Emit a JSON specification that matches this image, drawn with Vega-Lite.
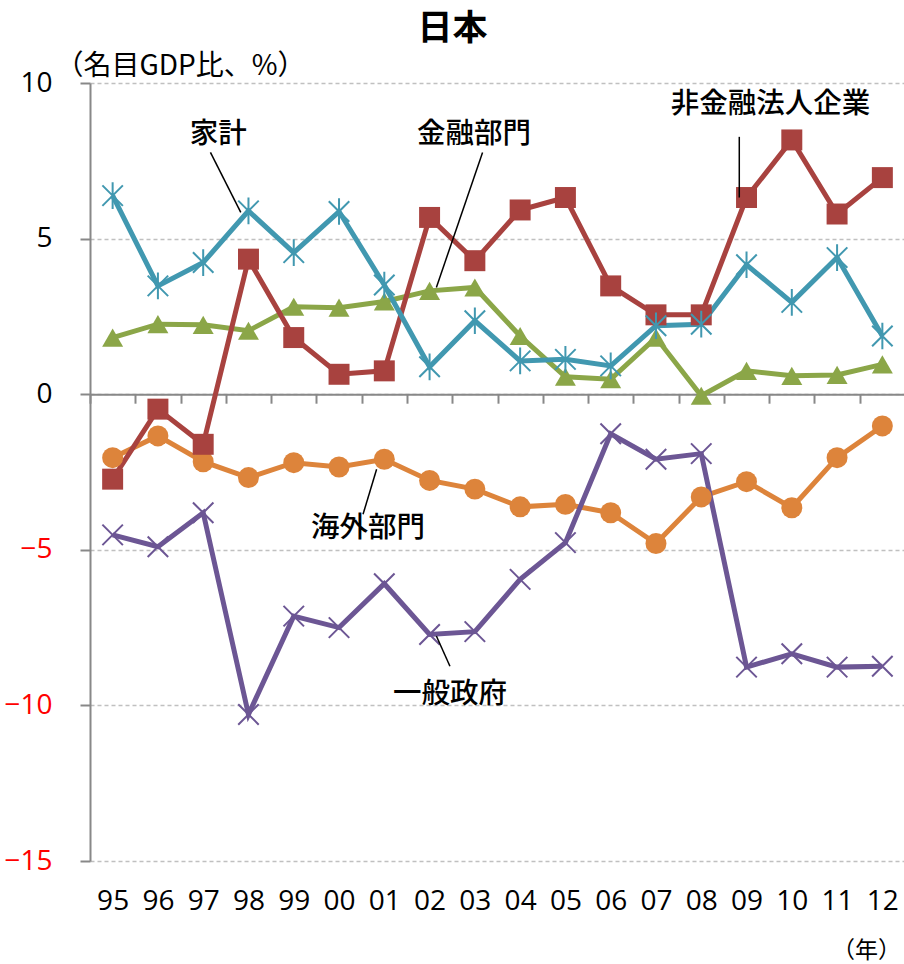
{
  "$schema": "https://vega.github.io/schema/vega-lite/v6.json",
  "width": 815,
  "height": 778,
  "autosize": "none",
  "padding": {"left": 90, "top": 83, "right": 0, "bottom": 103},
  "background": "white",
  "config": {"view": {"stroke": null}, "font": "Noto Sans CJK JP"},
  "title": {"text": "日本", "fontSize": 35, "fontWeight": "bold", "font": "Noto Sans CJK JP", "color": "black", "anchor": "middle", "frame": "group", "dx": -45, "baseline": "middle", "offset": -12},
  "datasets": {
    "sectors": [
      {"year": 1995, "series": "金融部門", "value": 1.82},
      {"year": 1996, "series": "金融部門", "value": 2.25},
      {"year": 1997, "series": "金融部門", "value": 2.23},
      {"year": 1998, "series": "金融部門", "value": 2.04},
      {"year": 1999, "series": "金融部門", "value": 2.81},
      {"year": 2000, "series": "金融部門", "value": 2.78},
      {"year": 2001, "series": "金融部門", "value": 2.98},
      {"year": 2002, "series": "金融部門", "value": 3.32},
      {"year": 2003, "series": "金融部門", "value": 3.43},
      {"year": 2004, "series": "金融部門", "value": 1.87},
      {"year": 2005, "series": "金融部門", "value": 0.56},
      {"year": 2006, "series": "金融部門", "value": 0.48},
      {"year": 2007, "series": "金融部門", "value": 1.82},
      {"year": 2008, "series": "金融部門", "value": -0.05},
      {"year": 2009, "series": "金融部門", "value": 0.75},
      {"year": 2010, "series": "金融部門", "value": 0.59},
      {"year": 2011, "series": "金融部門", "value": 0.62},
      {"year": 2012, "series": "金融部門", "value": 0.96},
      {"year": 1995, "series": "海外部門", "value": -2.04},
      {"year": 1996, "series": "海外部門", "value": -1.34},
      {"year": 1997, "series": "海外部門", "value": -2.17},
      {"year": 1998, "series": "海外部門", "value": -2.68},
      {"year": 1999, "series": "海外部門", "value": -2.2},
      {"year": 2000, "series": "海外部門", "value": -2.34},
      {"year": 2001, "series": "海外部門", "value": -2.09},
      {"year": 2002, "series": "海外部門", "value": -2.77},
      {"year": 2003, "series": "海外部門", "value": -3.05},
      {"year": 2004, "series": "海外部門", "value": -3.62},
      {"year": 2005, "series": "海外部門", "value": -3.54},
      {"year": 2006, "series": "海外部門", "value": -3.81},
      {"year": 2007, "series": "海外部門", "value": -4.8},
      {"year": 2008, "series": "海外部門", "value": -3.3},
      {"year": 2009, "series": "海外部門", "value": -2.81},
      {"year": 2010, "series": "海外部門", "value": -3.65},
      {"year": 2011, "series": "海外部門", "value": -2.04},
      {"year": 2012, "series": "海外部門", "value": -1.02},
      {"year": 1995, "series": "非金融法人企業", "value": -2.73},
      {"year": 1996, "series": "非金融法人企業", "value": -0.48},
      {"year": 1997, "series": "非金融法人企業", "value": -1.61},
      {"year": 1998, "series": "非金融法人企業", "value": 4.34},
      {"year": 1999, "series": "非金融法人企業", "value": 1.82},
      {"year": 2000, "series": "非金融法人企業", "value": 0.64},
      {"year": 2001, "series": "非金融法人企業", "value": 0.75},
      {"year": 2002, "series": "非金融法人企業", "value": 5.68},
      {"year": 2003, "series": "非金融法人企業", "value": 4.29},
      {"year": 2004, "series": "非金融法人企業", "value": 5.92},
      {"year": 2005, "series": "非金融法人企業", "value": 6.32},
      {"year": 2006, "series": "非金融法人企業", "value": 3.48},
      {"year": 2007, "series": "非金融法人企業", "value": 2.55},
      {"year": 2008, "series": "非金融法人企業", "value": 2.55},
      {"year": 2009, "series": "非金融法人企業", "value": 6.32},
      {"year": 2010, "series": "非金融法人企業", "value": 8.17},
      {"year": 2011, "series": "非金融法人企業", "value": 5.79},
      {"year": 2012, "series": "非金融法人企業", "value": 6.96},
      {"year": 1995, "series": "一般政府", "value": -4.52},
      {"year": 1996, "series": "一般政府", "value": -4.9},
      {"year": 1997, "series": "一般政府", "value": -3.81},
      {"year": 1998, "series": "一般政府", "value": -10.29},
      {"year": 1999, "series": "一般政府", "value": -7.13},
      {"year": 2000, "series": "一般政府", "value": -7.5},
      {"year": 2001, "series": "一般政府", "value": -6.09},
      {"year": 2002, "series": "一般政府", "value": -7.72},
      {"year": 2003, "series": "一般政府", "value": -7.63},
      {"year": 2004, "series": "一般政府", "value": -5.95},
      {"year": 2005, "series": "一般政府", "value": -4.77},
      {"year": 2006, "series": "一般政府", "value": -1.27},
      {"year": 2007, "series": "一般政府", "value": -2.09},
      {"year": 2008, "series": "一般政府", "value": -1.91},
      {"year": 2009, "series": "一般政府", "value": -8.77},
      {"year": 2010, "series": "一般政府", "value": -8.34},
      {"year": 2011, "series": "一般政府", "value": -8.77},
      {"year": 2012, "series": "一般政府", "value": -8.74},
      {"year": 1995, "series": "家計", "value": 6.38},
      {"year": 1996, "series": "家計", "value": 3.48},
      {"year": 1997, "series": "家計", "value": 4.23},
      {"year": 1998, "series": "家計", "value": 5.89},
      {"year": 1999, "series": "家計", "value": 4.55},
      {"year": 2000, "series": "家計", "value": 5.87},
      {"year": 2001, "series": "家計", "value": 3.51},
      {"year": 2002, "series": "家計", "value": 0.88},
      {"year": 2003, "series": "家計", "value": 2.36},
      {"year": 2004, "series": "家計", "value": 1.07},
      {"year": 2005, "series": "家計", "value": 1.12},
      {"year": 2006, "series": "家計", "value": 0.91},
      {"year": 2007, "series": "家計", "value": 2.2},
      {"year": 2008, "series": "家計", "value": 2.25},
      {"year": 2009, "series": "家計", "value": 4.16},
      {"year": 2010, "series": "家計", "value": 2.95},
      {"year": 2011, "series": "家計", "value": 4.39},
      {"year": 2012, "series": "家計", "value": 1.87}
    ],
    "notes": [
      {"label": "家計", "x": 1997.33, "y": 8.37},
      {"label": "金融部門", "x": 2002.98, "y": 8.37},
      {"label": "非金融法人企業", "x": 2009.53, "y": 9.33},
      {"label": "海外部門", "x": 2000.64, "y": -4.29},
      {"label": "一般政府", "x": 2002.45, "y": -9.64}
    ],
    "leaders": [
      {"x": 1997.16, "y": 7.77, "x2": 1997.83, "y2": 5.84},
      {"x": 2003.17, "y": 7.77, "x2": 2002.15, "y2": 3.43},
      {"x": 2008.84, "y": 8.27, "x2": 2008.84, "y2": 6.32},
      {"x": 2000.83, "y": -2.41, "x2": 2000.53, "y2": -3.86},
      {"x": 2002.15, "y": -7.77, "x2": 2002.45, "y2": -8.74}
    ]
  },
  "resolve": {"axis": {"x": "independent"}},
  "layer": [
    {
      "data": {"name": "sectors"},
      "mark": {"type": "line", "strokeWidth": 5},
      "encoding": {
        "x": {
          "field": "year", "type": "quantitative",
          "scale": {"domain": [1994.5, 2012.5], "nice": false, "zero": false},
          "axis": {
            "orient": "bottom", "values": [1995,1996,1997,1998,1999,2000,2001,2002,2003,2004,2005,2006,2007,2008,2009,2010,2011,2012],
            "labelExpr": "slice(toString(datum.value), 2)",
            "ticks": false, "domain": false, "grid": false,
            "labelFont": "Open Sans", "labelFontSize": 28, "labelColor": "black", "labelPadding": 26,
            "labelFlush": false, "labelOverlap": false,
            "title": "（年）", "titleFont": "Noto Sans CJK JP", "titleFontSize": 23, "titleFontWeight": "normal", "titleColor": "black",
            "titleX": 776, "titleY": 89, "titleAlign": "center", "titleBaseline": "middle"
          }
        },
        "y": {
          "field": "value", "type": "quantitative",
          "scale": {"domain": [-15, 10], "nice": false, "zero": false},
          "axis": {
            "values": [-15, -10, -5, 0, 5, 10],
            "grid": true, "gridDash": [4, 3], "gridColor": "#c0c0c0", "gridWidth": 1.5,
            "domainColor": "#888888", "domainWidth": 2, "tickColor": "#888888", "tickWidth": 2, "tickSize": 10,
            "labelFont": "Open Sans", "labelFontSize": 28, "labelPadding": 28,
            "labelColor": {"expr": "datum.value < 0 ? '#ff0000' : '#000000'"},
            "title": "（名目GDP比、%）", "titleFont": "Noto Sans CJK JP", "titleFontSize": 28, "titleFontWeight": "normal", "titleColor": "black",
            "titleAngle": 0, "titleX": -35, "titleY": -17, "titleAlign": "left", "titleBaseline": "middle"
          }
        },
        "color": {
          "field": "series", "type": "nominal",
          "scale": {"domain": ["家計", "非金融法人企業", "金融部門", "海外部門", "一般政府"], "range": ["#4198B0", "#A8423F", "#8BA648", "#DD843B", "#6C5694"]},
          "legend": null
        }
      }
    },
    {
      "data": {"name": "sectors"},
      "transform": [{"filter": {"field": "series", "oneOf": ["非金融法人企業", "金融部門", "海外部門"]}}],
      "mark": {"type": "point", "filled": true, "opacity": 1, "size": 440},
      "encoding": {
        "x": {"field": "year", "type": "quantitative", "axis": null},
        "y": {"field": "value", "type": "quantitative"},
        "color": {"field": "series", "type": "nominal", "legend": null},
        "shape": {
          "field": "series", "type": "nominal",
          "scale": {"domain": ["家計", "非金融法人企業", "金融部門", "海外部門", "一般政府"], "range": ["M-1,-1L1,1M-1,1L1,-1M0,-1.3L0,1.3", "square", "triangle-up", "circle", "M-1,-1L1,1M-1,1L1,-1"]},
          "legend": null
        }
      }
    },
    {
      "data": {"name": "sectors"},
      "transform": [{"filter": {"field": "series", "oneOf": ["家計", "一般政府"]}}],
      "mark": {"type": "point", "filled": false, "opacity": 1, "size": 420, "strokeWidth": 2},
      "encoding": {
        "x": {"field": "year", "type": "quantitative", "axis": null},
        "y": {"field": "value", "type": "quantitative"},
        "color": {"field": "series", "type": "nominal", "legend": null},
        "shape": {"field": "series", "type": "nominal", "legend": null}
      }
    },
    {
      "data": {"name": "leaders"},
      "mark": {"type": "rule", "color": "black", "strokeWidth": 1.5},
      "encoding": {
        "x": {"field": "x", "type": "quantitative", "axis": null},
        "y": {"field": "y", "type": "quantitative"},
        "x2": {"field": "x2"},
        "y2": {"field": "y2"}
      }
    },
    {
      "data": {"name": "notes"},
      "mark": {"type": "text", "font": "Noto Sans CJK JP", "fontSize": 28.5, "fontWeight": 500, "color": "black", "align": "center", "baseline": "middle"},
      "encoding": {
        "x": {
          "field": "x", "type": "quantitative",
          "axis": {
            "orient": "bottom", "offset": -466.8,
            "values": [1994.5,1995.5,1996.5,1997.5,1998.5,1999.5,2000.5,2001.5,2002.5,2003.5,2004.5,2005.5,2006.5,2007.5,2008.5,2009.5,2010.5,2011.5,2012.5],
            "labels": false, "grid": false, "title": null,
            "domain": true, "domainColor": "#888888", "domainWidth": 2,
            "ticks": true, "tickColor": "#888888", "tickWidth": 2, "tickSize": 9
          }
        },
        "y": {"field": "y", "type": "quantitative"},
        "text": {"field": "label"}
      }
    }
  ]
}
